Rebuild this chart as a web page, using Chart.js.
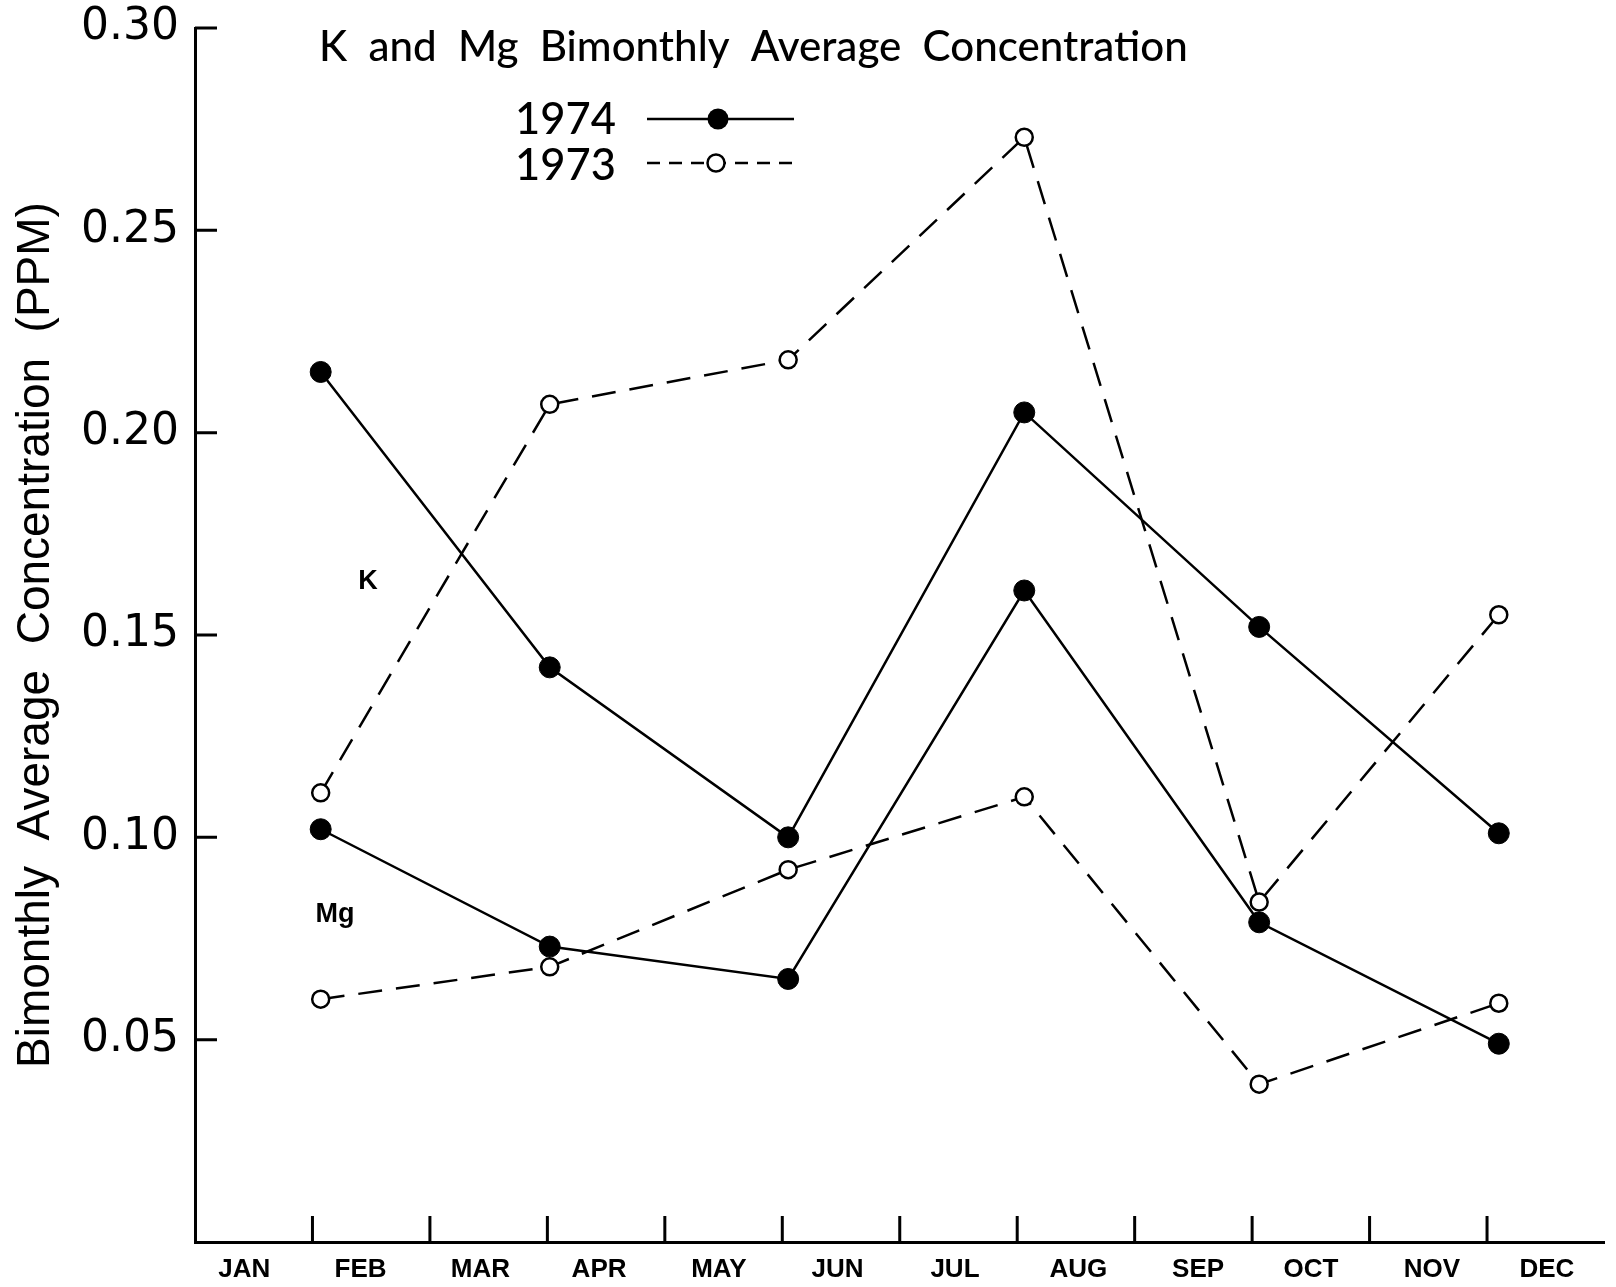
<!DOCTYPE html>
<html>
<head>
<meta charset="utf-8">
<script src="https://cdn.jsdelivr.net/npm/chart.js@4.4.1/dist/chart.umd.min.js"></script>
<style>
  html, body { margin: 0; padding: 0; background: #fff; }
  #wrap { width: 1616px; height: 1287px; position: relative; }
</style>
</head>
<body>
<div id="wrap"><canvas id="chart"></canvas></div>
<script>
// months, and where each name sits on the 0..12 month axis
const months = ["JAN", "FEB", "MAR", "APR", "MAY", "JUN", "JUL", "AUG", "SEP", "OCT", "NOV", "DEC"];
const monthLabelPos = [0.42, 1.41, 2.43, 3.44, 4.46, 5.47, 6.47, 7.52, 8.54, 9.50, 10.53, 11.51];
const monthTicks = [1, 2, 3, 4, 5, 6, 7, 8, 9, 10, 11];
// bimonthly sample positions on the month axis
const samplePos = [1.07, 3.02, 5.05, 7.06, 9.06, 11.1];

const k1974  = [0.215, 0.142, 0.100, 0.205, 0.152, 0.101];
const k1973  = [0.111, 0.207, 0.218, 0.273, 0.084, 0.155];
const mg1974 = [0.102, 0.073, 0.065, 0.161, 0.079, 0.049];
const mg1973 = [0.060, 0.068, 0.092, 0.110, 0.039, 0.059];

const yTicks = [0.05, 0.10, 0.15, 0.20, 0.25, 0.30];

const pts = arr => arr.map((v, i) => ({ x: samplePos[i], y: v }));

const solid = {
  borderColor: '#000', borderWidth: 2.5,
  pointRadius: 10.5, pointBackgroundColor: '#000', pointBorderColor: '#000', pointBorderWidth: 1,
  tension: 0
};
const dashed = {
  borderColor: '#000', borderWidth: 2.5, borderDash: [24, 14],
  pointRadius: 8.5, pointBackgroundColor: '#fff', pointBorderColor: '#000', pointBorderWidth: 2.5,
  tension: 0
};

// fits a text to a given width
function fitText(ctx, text, family, weight, width, x, y) {
  ctx.font = weight + ' 40px ' + family;
  const size = 40 * width / ctx.measureText(text).width;
  ctx.font = weight + ' ' + size + 'px ' + family;
  ctx.fillText(text, x, y);
}

const decorations = {
  id: 'decorations',
  afterDatasetsDraw(chart) {
    const { ctx, scales: { x, y }, chartArea: a } = chart;
    ctx.save();
    ctx.strokeStyle = '#000';
    ctx.fillStyle = '#000';

    // inward tick marks
    ctx.lineWidth = 3;
    ctx.beginPath();
    monthTicks.forEach(v => {
      const px = x.getPixelForValue(v);
      ctx.moveTo(px, a.bottom);
      ctx.lineTo(px, a.bottom - 26);
    });
    yTicks.forEach(v => {
      const py = y.getPixelForValue(v);
      ctx.moveTo(a.left, py);
      ctx.lineTo(a.left + 22, py);
    });
    ctx.stroke();

    // title
    ctx.textAlign = 'left';
    ctx.textBaseline = 'middle';
    fitText(ctx, 'K  and  Mg  Bimonthly  Average  Concentration', 'Lato', '500', 869, 319, 47);

    // legend
    fitText(ctx, '1974', 'Lato', '500', 101, 515, 120);
    fitText(ctx, '1973', 'Lato', '500', 101, 515, 166);
    ctx.lineWidth = 2.5;
    ctx.beginPath();
    ctx.moveTo(647, 119);
    ctx.lineTo(794, 119);
    ctx.stroke();
    ctx.beginPath();
    ctx.arc(718, 119, 10.5, 0, Math.PI * 2);
    ctx.fill();
    ctx.setLineDash([13, 9]);
    ctx.beginPath();
    ctx.moveTo(647, 163);
    ctx.lineTo(794, 163);
    ctx.stroke();
    ctx.setLineDash([]);
    ctx.beginPath();
    ctx.arc(716, 163, 8.5, 0, Math.PI * 2);
    ctx.fillStyle = '#fff';
    ctx.fill();
    ctx.stroke();

    // series labels
    ctx.fillStyle = '#000';
    ctx.textAlign = 'center';
    ctx.font = 'bold 27px "Liberation Sans"';
    ctx.fillText('K', 368, 582);
    ctx.fillText('Mg', 335, 915);
    ctx.restore();
  }
};

new Chart(document.getElementById('chart'), {
  type: 'line',
  data: {
    datasets: [
      { label: 'K 1974', data: pts(k1974), ...solid },
      { label: 'Mg 1974', data: pts(mg1974), ...solid },
      { label: 'K 1973', data: pts(k1973), ...dashed },
      { label: 'Mg 1973', data: pts(mg1973), ...dashed }
    ]
  },
  options: {
    responsive: true,
    maintainAspectRatio: false,
    animation: false,
    layout: { padding: { top: 28, right: 11, left: 0, bottom: 0 } },
    plugins: {
      legend: { display: false },
      tooltip: { enabled: false }
    },
    scales: {
      x: {
        type: 'linear', min: 0, max: 12,
        afterBuildTicks: s => { s.ticks = monthLabelPos.map(v => ({ value: v })); },
        afterFit: s => { s.height = 45; s.paddingLeft = 0; s.paddingRight = 0; },
        ticks: {
          autoSkip: false, maxRotation: 0, color: '#000', padding: 12,
          font: { family: 'Liberation Sans', weight: 'bold', size: 26 },
          callback: (v, i) => months[i]
        },
        grid: { drawOnChartArea: false, drawTicks: false },
        border: { color: '#000', width: 3 }
      },
      y: {
        min: 0, max: 0.30,
        afterBuildTicks: s => { s.ticks = yTicks.map(v => ({ value: v })); },
        afterFit: s => { s.width = 195; s.paddingTop = 0; s.paddingBottom = 0; },
        ticks: {
          color: '#000', padding: 16,
          font: { family: 'DejaVu Sans', size: 44 },
          callback: v => v.toFixed(2)
        },
        grid: { drawOnChartArea: false, drawTicks: false },
        border: { color: '#000', width: 3 },
        title: {
          display: true,
          text: 'Bimonthly  Average  Concentration  (PPM)',
          color: '#000',
          font: { family: 'Liberation Sans', size: 46, lineHeight: 1 },
          padding: { top: 13, bottom: 0 }
        }
      }
    }
  },
  plugins: [decorations]
});
</script>
</body>
</html>
